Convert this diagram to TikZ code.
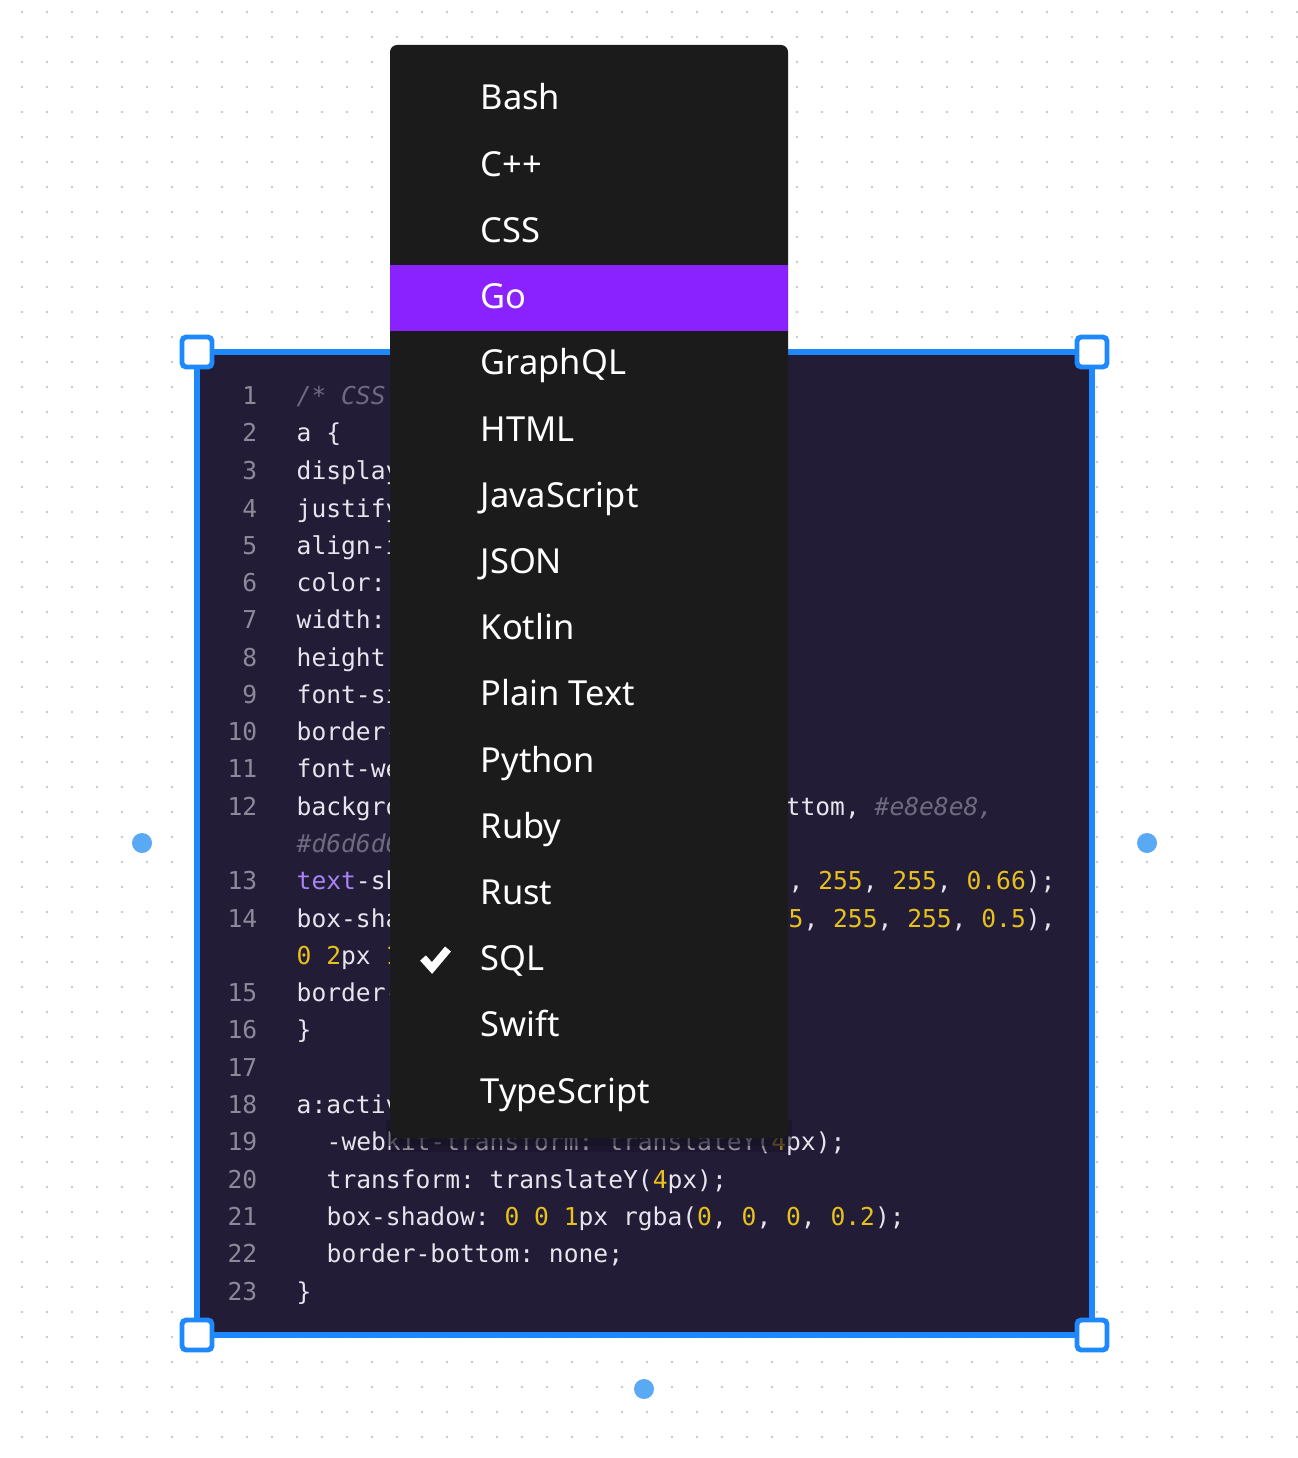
\documentclass[tikz,border=0pt]{standalone}
\usepackage{fontspec}
\setmainfont{Noto Sans}
\setmonofont{DejaVu Sans Mono}
\definecolor{selblue}{HTML}{1E88FF}
\definecolor{dotblue}{HTML}{5AA9F5}
\definecolor{codebg}{HTML}{221C37}
\definecolor{menubg}{HTML}{1B1B1B}
\definecolor{golila}{HTML}{8A22FF}
\definecolor{lnum}{HTML}{8C8A99}
\definecolor{ctext}{HTML}{E6E4EC}
\definecolor{cgrey}{HTML}{6E6A80}
\definecolor{cyel}{HTML}{E8C21A}
\definecolor{cpur}{HTML}{A783F5}
\newcommand{\yl}[1]{\textcolor{cyel}{#1}}
\tikzset{
  lnumber/.style={anchor=base east, text=lnum, font=\ttfamily\fontsize{7}{7}\selectfont, inner sep=0},
  code/.style={anchor=base west, text=ctext, font=\ttfamily\fontsize{7}{7}\selectfont, inner sep=0},
  item/.style={anchor=base west, text=white, font=\fontsize{9.8}{9.8}\selectfont, inner sep=0},
  handle/.style={draw=selblue, fill=white, line width=1.4pt, rounded corners=1.2pt, minimum size=0.3cm, inner sep=0},
  sidedot/.style={circle, fill=dotblue, minimum size=0.2cm, inner sep=0}
}
\begin{document}
\begin{tikzpicture}[x=0.01cm, y=-0.01cm]
  \useasboundingbox (0,0) rectangle (1298,1458);
  \fill[white] (0,0) rectangle (1298,1458);
  % dotted canvas
  \foreach \x in {22,47,...,1297}
    \foreach \y in {12,37,...,1457}
      \fill[black!22] (\x,\y) circle (1.3);
  % code block
  \fill[codebg] (197,352) rectangle (1092,1335);
  \foreach \n/\y in {1/397,2/434,3/471,4/509,5/546,6/583,7/620,8/658,9/695,10/732,11/769,12/807,13/881,14/919,15/993,16/1030,17/1068,18/1105,19/1142,20/1180,21/1217,22/1254,23/1292}
    \node[lnumber] (n\n) at (258,\y+8) {\n};
  \node[code, font=\ttfamily\itshape\fontsize{7}{7}\selectfont, text=cgrey] (c1) at (296,405) {/* CSS Button */};
  \node[code] (c2) at (296,442) {a \{};
  \node[code] (c3) at (296,479) {display: inline-flex;};
  \node[code] (c4) at (296,517) {justify-content: center;};
  \node[code] (c5) at (296,554) {align-items: center;};
  \node[code] (c6) at (296,591) {color: \#333;};
  \node[code] (c7) at (296,628) {width: auto;};
  \node[code] (c8) at (296,666) {height: auto;};
  \node[code] (c9) at (296,703) {font-size: 16px;};
  \node[code] (c10) at (296,740) {border-radius: 4px;};
  \node[code] (c11) at (296,777) {font-weight: bold;};
  \node[code] (c12) at (296,815) {background: linear-gradient(to bottom, \textcolor{cgrey}{\itshape\#e8e8e8,}};
  \node[code, text=cgrey, font=\ttfamily\itshape\fontsize{7}{7}\selectfont] (c12b) at (296,852) {\#d6d6d6);};
  \node[code] (c13) at (296,889) {\textcolor{cpur}{text}-shadow};
  \node[code] (c13r) at (788,889) {, \yl{255}, \yl{255}, \yl{0.66});};
  \node[code] (c14) at (296,927) {box-shadow};
  \node[code] (c14r) at (788,927) {\yl{5}, \yl{255}, \yl{255}, \yl{0.5}),};
  \node[code] (c14b) at (296,964) {\yl{0} \yl{2}px \yl{1}px};
  \node[code] (c15) at (296,1001) {border-bottom: 1px;};
  \node[code] (c16) at (296,1038) {\}};
  \node[code] (c18) at (296,1113) {a:active \{};
  \node[code] (c19) at (326,1150) {-webkit-transform: translateY(\yl{4}px);};
  \node[code] (c20) at (326,1188) {transform: translateY(\yl{4}px);};
  \node[code] (c21) at (326,1225) {box-shadow: \yl{0} \yl{0} \yl{1}px rgba(\yl{0}, \yl{0}, \yl{0}, \yl{0.2});};
  \node[code] (c22) at (326,1262) {border-bottom: none;};
  \node[code] (c23) at (296,1300) {\}};
  % selection frame
  \draw[selblue, line width=1.7pt] (197,352) rectangle (1092,1335);
  \node[handle] (h1) at (197,352) {};
  \node[handle] (h2) at (1092,352) {};
  \node[handle] (h3) at (197,1335) {};
  \node[handle] (h4) at (1092,1335) {};
  \node[sidedot] (s1) at (142,843) {};
  \node[sidedot] (s2) at (1147,843) {};
  \node[sidedot] (s3) at (644,1389) {};
  % language menu
  \fill[codebg!60!black, opacity=0.5] (386,1120) rectangle (792,1146);
  \fill[codebg!60!black, opacity=0.4] (390,1120) rectangle (788,1152);
  \fill[menubg, rounded corners=2pt] (390,45) rectangle (788,1138);
  \fill[golila] (390,265) rectangle (788,331);
  \foreach \t [count=\i from 0] in {Bash,C++,CSS,Go,GraphQL,HTML,JavaScript,JSON,Kotlin,Plain Text,Python,Ruby,Rust,SQL,Swift,TypeScript}
    \node[item] (m\i) at (480,110+66.2*\i) {\t};
  \draw[white, line width=2.2pt] (423,958) -- (432,968) -- (448,949);
\end{tikzpicture}
\end{document}
